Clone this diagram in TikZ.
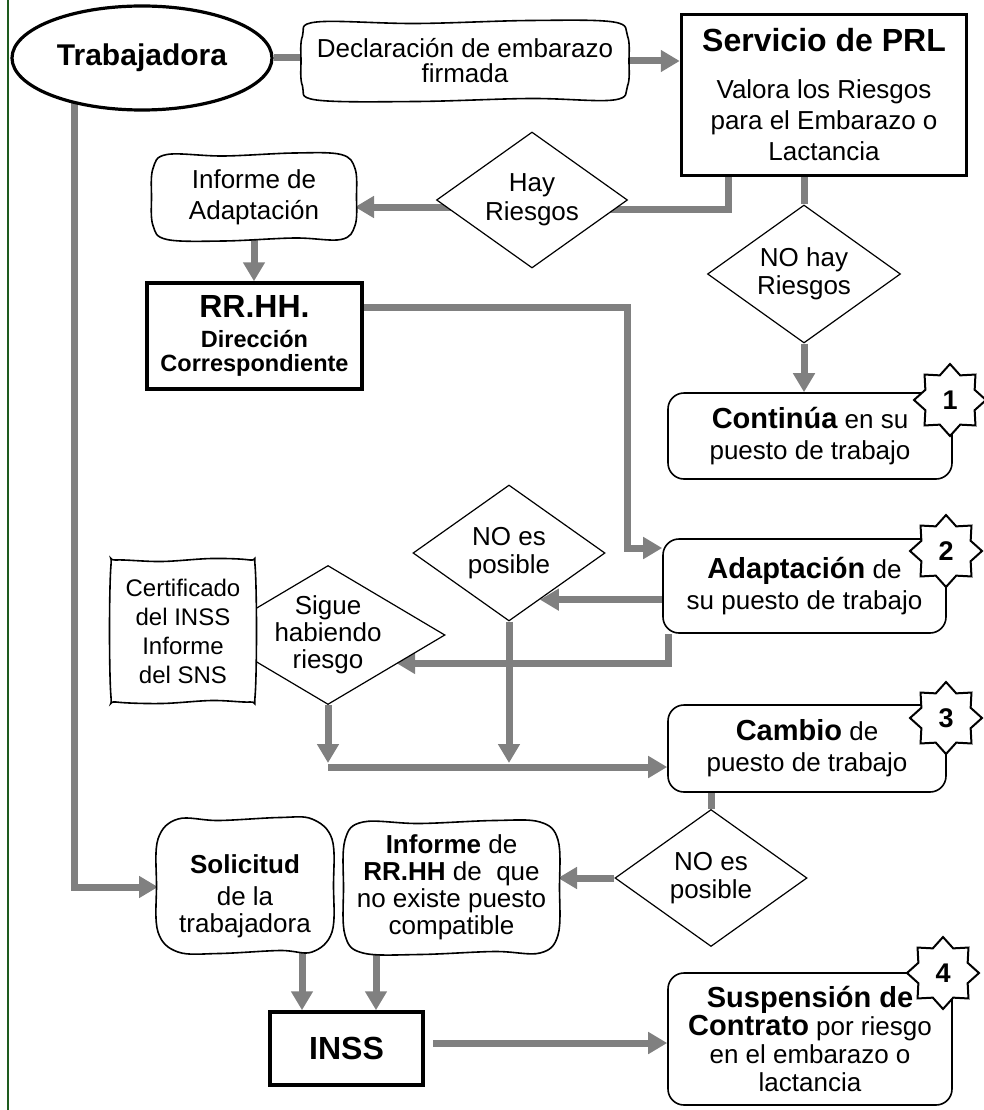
\documentclass[tikz,border=0pt]{standalone}
\usepackage{fontspec}
\setmainfont{Liberation Sans}
\usetikzlibrary{shapes.geometric,arrows.meta,backgrounds,calc}

\definecolor{gris}{HTML}{808080}
\definecolor{verde}{HTML}{1E5B1E}

\newcommand{\normaltxt}{\fontsize{26}{31}\selectfont}
\newcommand{\cabecera}{\fontsize{32}{32}\selectfont\bfseries}
\newcommand{\clave}[1]{{\fontsize{29}{29}\selectfont\bfseries #1}}

% hand drawn outline round an (empty) node
\newcommand{\ondulada}[2][14]{%
	\draw [line width=1.6pt, fill=white] plot [smooth cycle, tension=0.6] coordinates {
		($(#2.north west)+(#1,0)$)
		($(#2.north west)!0.35!(#2.north east)+(0,1.5)$)
		($(#2.north west)!0.7!(#2.north east)+(0,-1.5)$)
		($(#2.north east)+(-#1,0)$)
		($(#2.north east)+(0,#1)$)
		($(#2.north east)!0.5!(#2.south east)+(1.5,0)$)
		($(#2.south east)+(0,-#1)$)
		($(#2.south east)+(-#1,0)$)
		($(#2.south east)!0.3!(#2.south west)+(0,-1.5)$)
		($(#2.south east)!0.65!(#2.south west)+(0,1.5)$)
		($(#2.south west)+(#1,0)$)
		($(#2.south west)+(0,-#1)$)
		($(#2.south west)!0.5!(#2.north west)+(-1.5,0)$)
		($(#2.north west)+(0,#1)$)
	};
}

\tikzset{
	caja/.style={draw, line width=3.5pt, fill=white, align=center, inner sep=0pt},
	final/.style={draw, line width=1.6pt, rounded corners=16pt, fill=white, align=center, inner sep=0pt},
	hueco/.style={inner sep=0pt, outer sep=0pt},
	texto/.style={align=center, inner sep=0pt},
	decision/.style={diamond, draw, line width=1.2pt, fill=white, inner sep=0pt},
	badge/.style={star, star points=8, star point ratio=1.35, draw, line width=2pt, fill=white,
		minimum size=72pt, inner sep=0pt, font=\fontsize{27}{27}\selectfont\bfseries},
	flow/.style={draw=gris, line width=7pt},
	arrow/.style={flow, -{Triangle[length=19pt,width=21pt]}},
}

\begin{document}
\begin{tikzpicture}[x=1pt,y=1pt,yscale=-1,xscale=1]
	\useasboundingbox (0,0) rectangle (983,1110);
	% left margin line
	\draw [verde, line width=1.5pt] (8,0) -- (8,1110);

	%Shape: Ellipse
	\node [ellipse, draw, line width=3.2pt, fill=white, minimum width=260pt, minimum height=104pt, inner sep=0pt,
		font=\fontsize{30}{30}\selectfont\bfseries] (trab) at (142,58) {Trabajadora};
	%Shape: Wavy boxes
	\node [hueco, minimum width=325pt, minimum height=78pt] (decl) at (465,61) {};
	\ondulada{decl}
	\node [texto, font=\fontsize{26}{25}\selectfont] (declT) at (decl) {Declaración de embarazo\\firmada};
	\node [hueco, minimum width=202pt, minimum height=85pt] (infA) at (254,197) {};
	\ondulada{infA}
	\node [texto, font=\normaltxt] (infAT) at (infA) {Informe de\\Adaptación};
	%Shape: Thick boxes
	\node [caja, minimum width=285pt, minimum height=161pt, font=\normaltxt] (prl) at (824,95)
		{{\cabecera Servicio de PRL}\\[16pt]Valora los Riesgos\\para el Embarazo o\\Lactancia};
	\node [caja, minimum width=215pt, minimum height=106pt, font=\fontsize{23.5}{24}\selectfont\bfseries] (rrhh) at (254.5,336)
		{{\cabecera RR.HH.}\\[6pt]Dirección\\Correspondiente};

	%Shape: Diamonds
	\node [decision, minimum width=191pt, minimum height=136pt,
		label={[align=center, font=\fontsize{26}{29}\selectfont]center:Hay\\Riesgos}] (hay) at (532,200) {};
	\node [decision, minimum width=193pt, minimum height=138pt,
		label={[align=center, font=\fontsize{26}{28}\selectfont]center:NO hay\\Riesgos}] (nohay) at (804,274) {};
	\node [decision, minimum width=192pt, minimum height=136pt,
		label={[align=center, font=\fontsize{26}{28}\selectfont]center:NO es\\posible}] (noposA) at (509,553) {};
	\node [decision, minimum width=234pt, minimum height=139pt,
		label={[align=center, font=\fontsize{26}{27}\selectfont]center:Sigue\\habiendo\\riesgo}] (sigue) at (328,635) {};
	\node [decision, minimum width=192pt, minimum height=137pt,
		label={[align=center, font=\fontsize{26}{28}\selectfont]center:NO es\\posible}] (noposB) at (711,878) {};

	\node [hueco, minimum width=144pt, minimum height=142pt] (cert) at (183,631) {};
	\ondulada[5]{cert}
	\node [texto, font=\fontsize{24}{29}\selectfont] (certT) at (cert) {Certificado\\del INSS\\Informe\\del SNS};

	%Shape: Result boxes
	\node [final, minimum width=284pt, minimum height=86pt, font=\normaltxt] (cont) at (810,436) {\clave{Continúa} en su\\puesto de trabajo};
	\node [final, minimum width=283pt, minimum height=94pt, font=\normaltxt] (adap) at (804.5,586) {\clave{Adaptación} de\\su puesto de trabajo};
	\node [final, minimum width=278pt, minimum height=87pt, font=\normaltxt] (cambio) at (807,748.5) {\clave{Cambio} de\\puesto de trabajo};
	\node [final, minimum width=284pt, minimum height=132pt, font=\fontsize{26}{28}\selectfont] (susp) at (810,1039)
		{\clave{Suspensión de}\\\clave{Contrato} por riesgo\\en el embarazo o\\lactancia};

	%Shape: Bottom row
	\node [hueco, minimum width=174pt, minimum height=133pt] (soli) at (245,885.5) {};
	\ondulada[20]{soli}
	\node [texto, font=\fontsize{26}{27}\selectfont] (soliT) at ([yshift=11pt]soli.center) {\textbf{Solicitud}\\[5pt]de la\\trabajadora};
	\node [hueco, minimum width=213pt, minimum height=131pt] (infB) at (451.5,887.5) {};
	\ondulada[18]{infB}
	\node [texto, font=\fontsize{26}{27}\selectfont] (infBT) at (infB) {\textbf{Informe} de\\\textbf{RR.HH} de~~que\\no existe puesto\\compatible};
	\node [caja, minimum width=153pt, minimum height=73pt, font=\cabecera] (inss) at (346.5,1048.5) {INSS};

	%Shape: Numbers
	\node [badge] (n1) at (950,400) {1};
	\node [badge] (n2) at (946,551) {2};
	\node [badge] (n3) at (946,718) {3};
	\node [badge] (n4) at (943,973) {4};

	% bends
	\coordinate (codoPRL) at (728,209);
	\coordinate (salHay) at (532,207);
	\coordinate (codoRR) at (627,307);
	\coordinate (codoAd) at (627,548);
	\coordinate (golpeA) at ($(noposA.east)!0.68!(noposA.south)$);
	\coordinate (codoAs) at (668,663);
	\coordinate (golpeS) at ($(sigue.east)!0.42!(sigue.south)$);
	\coordinate (cruce) at (328,767);
	\coordinate (bajada) at (74,887);
	\coordinate (colS) at (302,1000);
	\coordinate (colI) at (376,1000);
	\coordinate (salINSS) at (433,1043);

	%Straight Lines
	\begin{scope}[on background layer]
		\draw [flow] (trab) -- (trab -| decl.west);
		\draw [arrow] (decl.east) -- (decl.east -| prl.west);
		\draw [flow] (prl.south -| codoPRL) -- (codoPRL) -- (codoPRL -| hay);
		\draw [arrow] (salHay) -- (salHay -| infA.east);
		\draw [arrow] (infA.south) -- (infA.south |- rrhh.north);
		\draw [flow] (prl.south -| nohay) -- (nohay);
		\draw [arrow] (nohay.south) -- (nohay.south |- cont.north);
		\draw [arrow] (rrhh.east |- codoRR) -- (codoRR) -- (codoAd) -- (codoAd -| adap.west);
		\draw [arrow] (adap.west |- golpeA) -- (golpeA);
		\draw [arrow] (adap.south -| codoAs) -- (codoAs) -- (codoAs -| golpeS);
		\draw [arrow, shorten >=4pt] (sigue.south) -- (sigue.south |- cruce);
		\draw [arrow, shorten >=4pt] (noposA.south) -- (noposA.south |- cruce);
		\draw [arrow] (cruce) -- (cruce -| cambio.west);
		\draw [flow] (cambio.south -| noposB) -- (noposB.north);
		\draw [arrow] (noposB.west) -- (noposB.west -| infB.east);
		\draw [arrow] (trab -| bajada) -- (bajada) -- (bajada -| soli.west);
		\draw [arrow] (soli.south -| colS) -- (inss.north -| colS);
		\draw [arrow] (infB.south -| colI) -- (inss.north -| colI);
		\draw [arrow] (salINSS) -- (salINSS -| susp.west);
	\end{scope}
\end{tikzpicture}
\end{document}
